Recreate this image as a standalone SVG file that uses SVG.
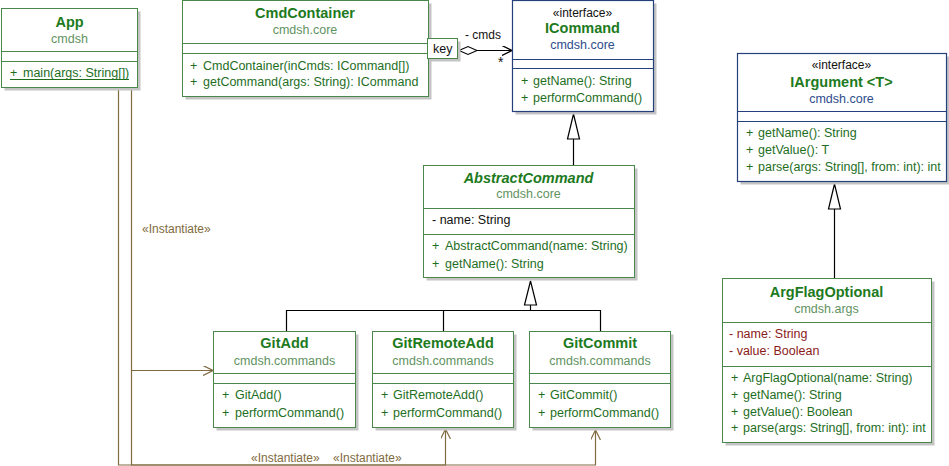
<svg xmlns="http://www.w3.org/2000/svg" width="949" height="466" viewBox="0 0 949 466">
<style>
text{font-family:"Liberation Sans",Arial,sans-serif;font-size:12.5px}
.box{fill:#fff;stroke:#4a874a;stroke-width:1}
.ibox{fill:#fff;stroke:#25407a;stroke-width:1.2}
.sh{fill:#c4c4c4}
.div{stroke:#4a874a;stroke-width:1}
.idiv{stroke:#25407a;stroke-width:1}
.name{font-weight:bold;font-size:14.5px;fill:#1d7a1d;text-anchor:middle}
.pkg{fill:#5f935f;text-anchor:middle}
.ipkg{fill:#2e4c8c;text-anchor:middle}
.st{fill:#111;text-anchor:middle;font-size:12px}
.m{fill:#1e6e1e}
.a{fill:#111}
.ra{fill:#8b1a1a}
.inst{stroke:#806a40;stroke-width:1.2;fill:none}
.instl{fill:#806a40;font-size:12px}
.gen{stroke:#000;stroke-width:1.2;fill:none}
.tri{stroke:#000;stroke-width:1.2;fill:#fff}
</style>
<defs>
<marker id="open" viewBox="0 0 10 10" refX="10" refY="5" markerWidth="10" markerHeight="10" markerUnits="userSpaceOnUse" orient="auto">
<path d="M0,0 L10,5 L0,10" fill="none" stroke="#806a40" stroke-width="1.2"/>
</marker>
<marker id="openb" viewBox="0 0 10 10" refX="10" refY="5" markerWidth="10" markerHeight="10" markerUnits="userSpaceOnUse" orient="auto">
<path d="M0,0 L10,5 L0,10" fill="none" stroke="#000" stroke-width="1.2"/>
</marker>
</defs>

<g id="connectors">
<polyline class="inst" points="118.5,88 118.5,465 595.5,465 595.5,430" marker-end="url(#open)"/>
<polyline class="inst" points="131.5,88 131.5,465 445.5,465 445.5,429" marker-end="url(#open)"/>
<polyline class="inst" points="131.5,370.5 213,370.5" marker-end="url(#open)"/>
<text class="instl" x="142" y="233">«Instantiate»</text>
<text class="instl" x="251" y="462">«Instantiate»</text>
<text class="instl" x="333" y="462">«Instantiate»</text>
<path d="M459,50.5 L468,46.5 L477,50.5 L468,54.5 Z" fill="#fff" stroke="#000" stroke-width="1.1"/>
<line class="gen" x1="477" y1="50.5" x2="512" y2="50.5" marker-end="url(#openb)"/>
<text x="465" y="39" style="font-size:12px" fill="#111">- cmds</text>
<text x="498" y="67" style="font-size:14px" fill="#111">*</text>
<line class="gen" x1="573.5" y1="139" x2="573.5" y2="165"/>
<path class="tri" d="M573.5,114 L579.5,139 L567.5,139 Z"/>
<polyline class="gen" points="286.5,331 286.5,310.5 600.5,310.5 600.5,331"/>
<line class="gen" x1="443.5" y1="310.5" x2="443.5" y2="331"/>
<line class="gen" x1="530.5" y1="305" x2="530.5" y2="310.5"/>
<path class="tri" d="M530.5,281 L536.5,305 L524.5,305 Z"/>
<line class="gen" x1="834.5" y1="209" x2="834.5" y2="278"/>
<path class="tri" d="M834.5,184 L840.5,209 L828.5,209 Z"/>
</g>

<g id="App">
<rect class="sh" x="4.5" y="11.5" width="136" height="79"/>
<rect class="box" x="1.5" y="8.5" width="136" height="79"/>
<line class="div" x1="1.5" y1="51.5" x2="137.5" y2="51.5"/>
<line class="div" x1="1.5" y1="61.5" x2="137.5" y2="61.5"/>
<text class="name" x="69.5" y="27">App</text>
<text class="pkg" x="69.5" y="43">cmdsh</text>
<text class="m" x="10" y="77">+<tspan x="23">main(args: String[])</tspan></text>
<line x1="10" y1="79.5" x2="129" y2="79.5" stroke="#1e6e1e" stroke-width="1"/>
</g>

<g id="CmdContainer">
<rect class="sh" x="185.5" y="3.5" width="246" height="96"/>
<rect class="box" x="182.5" y="0.5" width="246" height="96"/>
<line class="div" x1="182.5" y1="43.5" x2="428.5" y2="43.5"/>
<line class="div" x1="182.5" y1="53.5" x2="428.5" y2="53.5"/>
<text class="name" x="305" y="18">CmdContainer</text>
<text class="pkg" x="305" y="34">cmdsh.core</text>
<text class="m" x="190" y="70">+<tspan x="203">CmdContainer(inCmds: ICommand[])</tspan></text>
<text class="m" x="190" y="86">+<tspan x="203">getCommand(args: String): ICommand</tspan></text>
<rect class="sh" x="430.5" y="41.5" width="30" height="20"/>
<rect class="box" x="427.5" y="38.5" width="30" height="20"/>
<text x="433" y="53" fill="#111">key</text>
</g>

<g id="ICommand">
<rect class="sh" x="515.5" y="3.5" width="141" height="111"/>
<rect class="ibox" x="512.5" y="0.5" width="141" height="111"/>
<line class="idiv" x1="512.5" y1="59.5" x2="653.5" y2="59.5"/>
<line class="idiv" x1="512.5" y1="68.5" x2="653.5" y2="68.5"/>
<text class="st" x="582.5" y="17">«interface»</text>
<text class="name" x="582.5" y="33">ICommand</text>
<text class="ipkg" x="582.5" y="49">cmdsh.core</text>
<text class="m" x="521" y="85">+<tspan x="533">getName(): String</tspan></text>
<text class="m" x="521" y="102">+<tspan x="533">performCommand()</tspan></text>
</g>

<g id="IArgument">
<rect class="sh" x="740.5" y="56.5" width="209" height="128"/>
<rect class="ibox" x="737.5" y="53.5" width="209" height="128"/>
<line class="idiv" x1="737.5" y1="111.5" x2="946.5" y2="111.5"/>
<line class="idiv" x1="737.5" y1="121.5" x2="946.5" y2="121.5"/>
<text class="st" x="841.5" y="69">«interface»</text>
<text class="name" x="841.5" y="87">IArgument &lt;T&gt;</text>
<text class="ipkg" x="841.5" y="103">cmdsh.core</text>
<text class="m" x="746" y="137">+<tspan x="758">getName(): String</tspan></text>
<text class="m" x="746" y="154">+<tspan x="758">getValue(): T</tspan></text>
<text class="m" x="746" y="171">+<tspan x="758">parse(args: String[], from: int): int</tspan></text>
</g>

<g id="AbstractCommand">
<rect class="sh" x="426.5" y="168.5" width="211" height="112"/>
<rect class="box" x="423.5" y="165.5" width="211" height="112"/>
<line class="div" x1="423.5" y1="208.5" x2="634.5" y2="208.5"/>
<line class="div" x1="423.5" y1="234.5" x2="634.5" y2="234.5"/>
<text class="name" x="528.5" y="183" font-style="italic">AbstractCommand</text>
<text class="pkg" x="528.5" y="198">cmdsh.core</text>
<text class="a" x="432" y="224">- name: String</text>
<text class="m" x="432" y="250">+<tspan x="445">AbstractCommand(name: String)</tspan></text>
<text class="m" x="432" y="268">+<tspan x="445">getName(): String</tspan></text>
</g>

<g id="GitAdd">
<rect class="sh" x="216.5" y="334.5" width="142" height="96"/>
<rect class="box" x="213.5" y="331.5" width="142" height="96"/>
<line class="div" x1="213.5" y1="373.5" x2="355.5" y2="373.5"/>
<line class="div" x1="213.5" y1="383.5" x2="355.5" y2="383.5"/>
<text class="name" x="284.5" y="348">GitAdd</text>
<text class="pkg" x="284.5" y="365">cmdsh.commands</text>
<text class="m" x="222" y="399">+<tspan x="235">GitAdd()</tspan></text>
<text class="m" x="222" y="417">+<tspan x="235">performCommand()</tspan></text>
</g>

<g id="GitRemoteAdd">
<rect class="sh" x="375.5" y="334.5" width="141" height="96"/>
<rect class="box" x="372.5" y="331.5" width="141" height="96"/>
<line class="div" x1="372.5" y1="373.5" x2="513.5" y2="373.5"/>
<line class="div" x1="372.5" y1="383.5" x2="513.5" y2="383.5"/>
<text class="name" x="443" y="348">GitRemoteAdd</text>
<text class="pkg" x="443" y="365">cmdsh.commands</text>
<text class="m" x="381" y="399">+<tspan x="393">GitRemoteAdd()</tspan></text>
<text class="m" x="381" y="417">+<tspan x="393">performCommand()</tspan></text>
</g>

<g id="GitCommit">
<rect class="sh" x="532.5" y="334.5" width="141" height="96"/>
<rect class="box" x="529.5" y="331.5" width="141" height="96"/>
<line class="div" x1="529.5" y1="373.5" x2="670.5" y2="373.5"/>
<line class="div" x1="529.5" y1="383.5" x2="670.5" y2="383.5"/>
<text class="name" x="600" y="348">GitCommit</text>
<text class="pkg" x="600" y="365">cmdsh.commands</text>
<text class="m" x="538" y="399">+<tspan x="550">GitCommit()</tspan></text>
<text class="m" x="538" y="417">+<tspan x="550">performCommand()</tspan></text>
</g>

<g id="ArgFlagOptional">
<rect class="sh" x="725.5" y="281.5" width="209" height="164"/>
<rect class="box" x="722.5" y="278.5" width="209" height="164"/>
<line class="div" x1="722.5" y1="322.5" x2="931.5" y2="322.5"/>
<line class="div" x1="722.5" y1="366.5" x2="931.5" y2="366.5"/>
<text class="name" x="826.5" y="297">ArgFlagOptional</text>
<text class="pkg" x="826.5" y="313">cmdsh.args</text>
<text class="ra" x="729" y="338">- name: String</text>
<text class="ra" x="729" y="355">- value: Boolean</text>
<text class="m" x="731" y="382">+<tspan x="743">ArgFlagOptional(name: String)</tspan></text>
<text class="m" x="731" y="399">+<tspan x="743">getName(): String</tspan></text>
<text class="m" x="731" y="416">+<tspan x="743">getValue(): Boolean</tspan></text>
<text class="m" x="731" y="432">+<tspan x="743">parse(args: String[], from: int): int</tspan></text>
</g>
</svg>
